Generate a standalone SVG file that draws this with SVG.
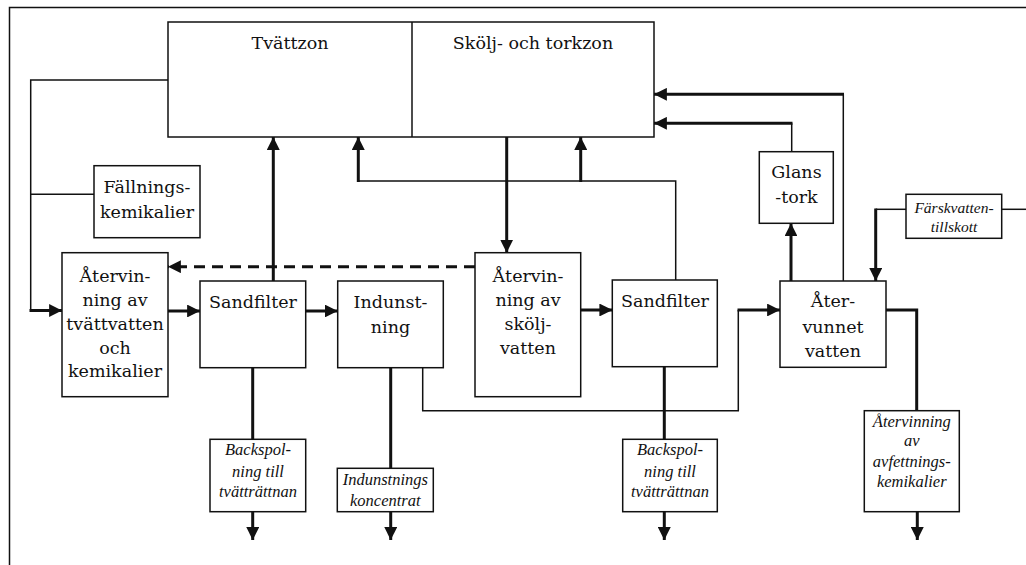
<svg xmlns="http://www.w3.org/2000/svg" width="1026" height="565" viewBox="0 0 1026 565">
<style>
.box{fill:#fff;stroke:#111;stroke-width:1.5}
.t{font-family:'DejaVu Serif','Liberation Serif',serif;font-size:17.5px;fill:#111;text-anchor:middle}
.i{font-family:'Liberation Serif','Times New Roman',Times,'DejaVu Serif',serif;font-size:16.5px;font-style:italic;fill:#111;text-anchor:middle}
.thin{fill:none;stroke:#111;stroke-width:1.5}
.thick{fill:none;stroke:#111;stroke-width:3}
.dash{fill:none;stroke:#111;stroke-width:3;stroke-dasharray:11,7}
</style>
<defs>
<marker id="ah" viewBox="0 0 10 10" refX="10" refY="5" markerWidth="4.3" markerHeight="4.3" orient="auto" markerUnits="strokeWidth">
<path d="M0,0 L10,5 L0,10 Z" fill="#111"/>
</marker>
</defs>
<rect width="1026" height="565" fill="#fff"/>
<path class="thin" d="M9.5,565 V7.5 H1026"/>

<g id="connectors">
<path class="thin" d="M168,80 H30.7 V310"/>
<path class="thin" d="M94,194.3 H30.7"/>
<path class="thick" d="M29.5,310.5 H62" marker-end="url(#ah)"/>
<path class="thick" d="M273.3,281 V137" marker-end="url(#ah)"/>
<path class="dash" d="M475,266.7 H168" marker-end="url(#ah)"/>
<path class="thick" d="M168,311 H200" marker-end="url(#ah)"/>
<path class="thick" d="M305.7,311 H337.7" marker-end="url(#ah)"/>
<path class="thick" d="M506.7,137 V252.7" marker-end="url(#ah)"/>
<path class="thin" d="M358.3,181 H675.7 V280"/>
<path class="thick" d="M358.3,182 V137" marker-end="url(#ah)"/>
<path class="thick" d="M580.7,182 V137" marker-end="url(#ah)"/>
<path class="thick" d="M580.7,310 H612.3" marker-end="url(#ah)"/>
<path class="thin" d="M422.7,367.7 V410.7 H738.3 V310"/>
<path class="thick" d="M737.5,310 H780" marker-end="url(#ah)"/>
<path class="thick" d="M390.7,367.7 V468.3"/>
<path class="thick" d="M390.7,511.7 V540" marker-end="url(#ah)"/>
<path class="thick" d="M252.7,367.7 V439.3"/>
<path class="thick" d="M252.7,511.7 V540" marker-end="url(#ah)"/>
<path class="thick" d="M664.3,366.7 V439.3"/>
<path class="thick" d="M664.3,511.7 V540" marker-end="url(#ah)"/>
<path class="thick" d="M917.3,511.7 V540" marker-end="url(#ah)"/>
<path class="thick" d="M791,281 V223.3" marker-end="url(#ah)"/>
<path class="thin" d="M791.7,151.7 V123.3"/>
<path class="thick" d="M792.5,123.3 H654" marker-end="url(#ah)"/>
<path class="thin" d="M843.3,281 V94.3"/>
<path class="thick" d="M844,94.3 H654" marker-end="url(#ah)"/>
<path class="thin" d="M906,209.3 H875.7"/>
<path class="thick" d="M875.7,208.5 V281" marker-end="url(#ah)"/>
<path class="thin" d="M1001.7,209.3 H1026"/>
<path class="thick" d="M886,310 H916.7 V410.7"/>
</g>

<g id="zones">
<rect class="box" x="168" y="22" width="486" height="115"/>
<line class="thin" x1="412" y1="22" x2="412" y2="137"/>
<text class="t" x="290" y="49">Tvättzon</text>
<text class="t" x="533" y="49">Skölj- och torkzon</text>
</g>

<g id="fallning">
<rect class="box" x="94" y="165.7" width="106" height="72"/>
<text class="t" x="147" y="193">Fällnings-</text>
<text class="t" x="147" y="218">kemikalier</text>
</g>

<g id="atervinning-tvatt">
<rect class="box" x="62" y="252.7" width="106" height="144"/>
<text class="t" x="115" y="281.7">Återvin-</text>
<text class="t" x="115" y="306">ning av</text>
<text class="t" x="115" y="330">tvättvatten</text>
<text class="t" x="115" y="353.5">och</text>
<text class="t" x="115" y="377">kemikalier</text>
</g>

<g id="sandfilter1">
<rect class="box" x="200" y="281" width="105.7" height="86.7"/>
<text class="t" x="253" y="308">Sandfilter</text>
</g>

<g id="indunstning">
<rect class="box" x="337.7" y="281" width="105.6" height="86.7"/>
<text class="t" x="390.5" y="308">Indunst-</text>
<text class="t" x="390.5" y="332.5">ning</text>
</g>

<g id="atervinning-skolj">
<rect class="box" x="475" y="252.7" width="105.7" height="144"/>
<text class="t" x="528" y="281.7">Återvin-</text>
<text class="t" x="528" y="306">ning av</text>
<text class="t" x="528" y="330">skölj-</text>
<text class="t" x="528" y="353.5">vatten</text>
</g>

<g id="sandfilter2">
<rect class="box" x="612.3" y="280" width="105" height="86.7"/>
<text class="t" x="665" y="306.7">Sandfilter</text>
</g>

<g id="glans">
<rect class="box" x="759.3" y="151.7" width="74" height="71.6"/>
<text class="t" x="796.5" y="178.3">Glans</text>
<text class="t" x="796.5" y="203.3">-tork</text>
</g>

<g id="atervunnet">
<rect class="box" x="780" y="281" width="106" height="86.3"/>
<text class="t" x="833" y="306.7">Åter-</text>
<text class="t" x="833" y="332.5">vunnet</text>
<text class="t" x="833" y="356.7">vatten</text>
</g>

<g id="farskvatten">
<rect class="box" x="906" y="194.3" width="95.7" height="44"/>
<text class="i" x="954" y="213.3" style="font-size:15.5px">Färskvatten-</text>
<text class="i" x="954" y="231.7" style="font-size:15.5px">tillskott</text>
</g>

<g id="backspol1">
<rect class="box" x="210" y="439.3" width="95.7" height="72.4"/>
<text class="i" x="258" y="455">Backspol-</text>
<text class="i" x="258" y="476.5">ning till</text>
<text class="i" x="258" y="496.7">tvätträttnan</text>
</g>

<g id="koncentrat">
<rect class="box" x="337.3" y="468.3" width="96" height="43.4"/>
<text class="i" x="385.3" y="485">Indunstnings</text>
<text class="i" x="385.3" y="505.5">koncentrat</text>
</g>

<g id="backspol2">
<rect class="box" x="622.7" y="439.3" width="94.6" height="72.4"/>
<text class="i" x="670" y="455">Backspol-</text>
<text class="i" x="670" y="476.5">ning till</text>
<text class="i" x="670" y="496.7">tvätträttnan</text>
</g>

<g id="avfettning">
<rect class="box" x="864.3" y="410.7" width="95" height="101"/>
<text class="i" x="911.8" y="426.7">Återvinning</text>
<text class="i" x="911.8" y="445.5">av</text>
<text class="i" x="911.8" y="466.7">avfettnings-</text>
<text class="i" x="911.8" y="487.3">kemikalier</text>
</g>
</svg>
